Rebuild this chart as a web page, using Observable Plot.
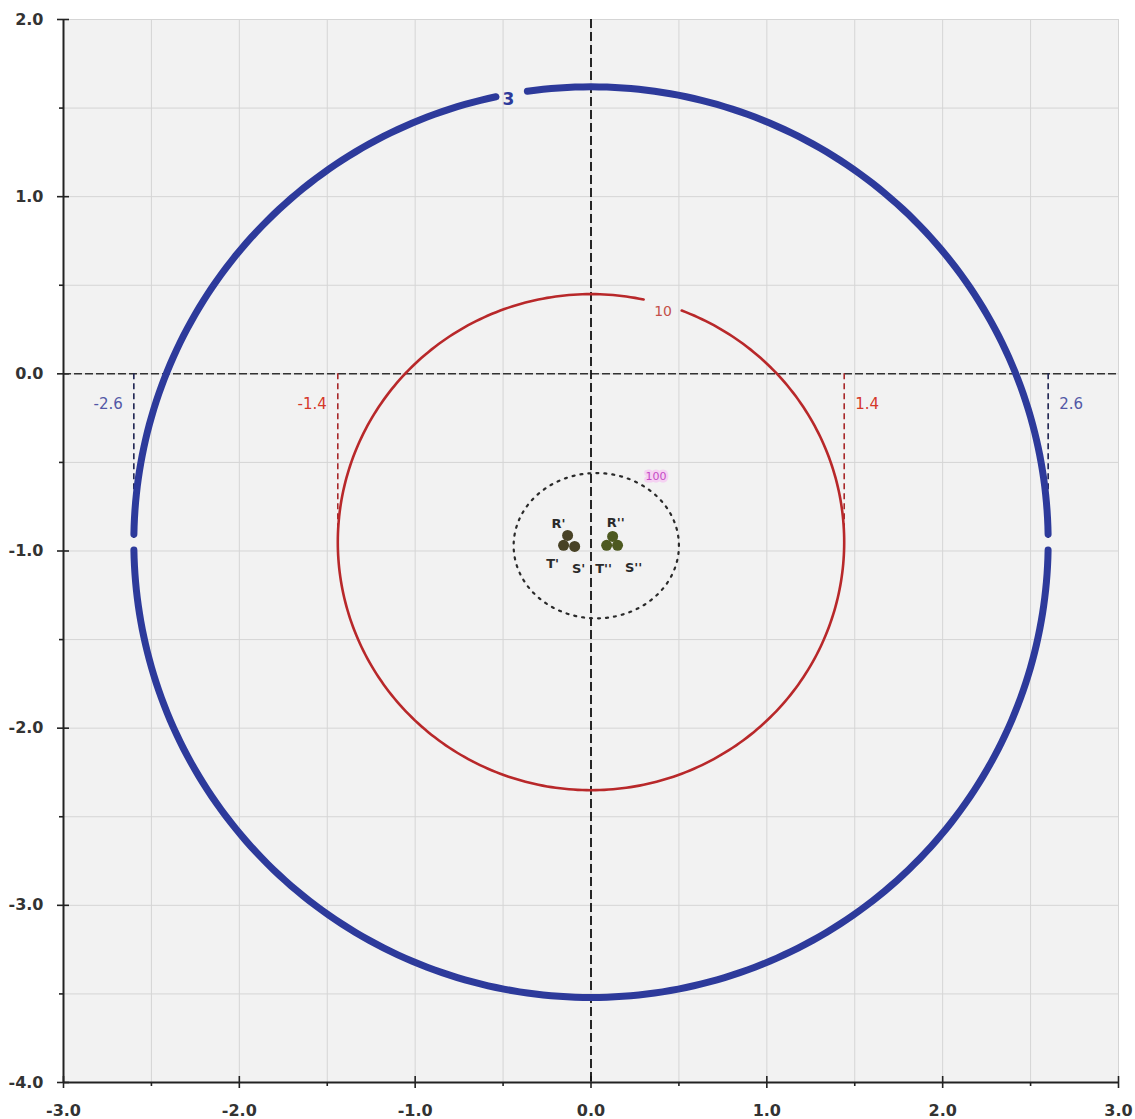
<!DOCTYPE html>
<html><head><meta charset="utf-8">
<script src="https://cdn.jsdelivr.net/npm/d3@7"></script>
<script src="https://cdn.jsdelivr.net/npm/@observablehq/plot@0.6"></script>
<style>html,body{margin:0;padding:0;background:#fff} svg{display:block}</style>
</head><body><div id="chart"></div>
<script>
// ---- data ----
const circleNames = ["3", "10", "100"];
const circleCx = [0, 0, 0.03];
const circleCy = [-0.95, -0.95, -0.97];
const circleRx = [2.6, 1.44, 0.47];
const circleRy = [2.57, 1.40, 0.41];
// arcs (degrees) actually drawn – gaps where labels / breaks sit
const circleArcs = [
  [[1, 98], [102, 179], [181, 359]],
  [[78, 429]],
  [[0, 360]]
];
const circleLabelX = [-0.47, 0.41, 0.37];
const circleLabelY = [1.55, 0.35, -0.58];

const markerX = [-2.6, -1.44, 1.44, 2.6];
const markerLabels = ["-2.6", "-1.4", "1.4", "2.6"];
const markerBottom = -0.93;

const pointNames = ["R'", "T'", "S'", "R''", "T''", "S''"];
const pointX = [-0.133, -0.156, -0.093, 0.123, 0.089, 0.151];
const pointY = [-0.912, -0.968, -0.974, -0.918, -0.968, -0.968];

const majorX = [-3, -2, -1, 0, 1, 2, 3];
const minorX = [-2.5, -1.5, -0.5, 0.5, 1.5, 2.5];
const majorY = [2, 1, 0, -1, -2, -3, -4];
const minorY = [1.5, 0.5, -0.5, -1.5, -2.5, -3.5];

// ---- styles ----
const circleStyle = [
  {stroke: "#2d3a9b", strokeWidth: 7},
  {stroke: "#b8282a", strokeWidth: 2.6},
  {stroke: "#2a2a2a", strokeWidth: 2.2, strokeDasharray: "2,6", strokeLinecap: "round"}
];
const circleLabelStyle = [
  {fill: "#2d3a9b", fontSize: 17, fontWeight: "bold"},
  {fill: "#c4504a", fontSize: 14},
  {fill: "#c64cc6", fontSize: 11, stroke: "#f5d2f2", strokeWidth: 5}
];
const markerColor = ["#1f2452", "#a8282a", "#a8282a", "#1f2452"];
const markerTextColor = ["#5358a6", "#d5382a", "#d5382a", "#5358a6"];
const pointColor = ["#484226", "#484226", "#484226", "#4d5920", "#4d5920", "#4d5920"];
const pointLabelOffset = {
  "R'": [-9, -12], "T'": [-11, 18], "S'": [4, 22],
  "R''": [3, -14], "T''": [-3, 23], "S''": [16, 22]
};

// ---- build ----
const arcRows = [];
circleNames.forEach((name, i) => {
  circleArcs[i].forEach(([a0, a1], j) => {
    for (let a = a0; a <= a1; a += 1) {
      const t = a * Math.PI / 180;
      arcRows.push({circle: i, arc: `${name}-${j}`,
        x: circleCx[i] + circleRx[i] * Math.cos(t),
        y: circleCy[i] + circleRy[i] * Math.sin(t)});
    }
  });
});
const points = pointNames.map((n, i) => ({name: n, x: pointX[i], y: pointY[i], color: pointColor[i]}));
const markers = markerX.map((x, i) => ({x, label: markerLabels[i], i}));

const marks = [
  Plot.frame({fill: "#f2f2f2"}),
  Plot.ruleX([...majorX, ...minorX], {stroke: "#d5d5d5", strokeWidth: 1}),
  Plot.ruleY([...majorY, ...minorY], {stroke: "#d5d5d5", strokeWidth: 1}),
  // axis labels
  Plot.axisX(majorX, {tickSize: 0, tickPadding: 22, label: null, tickFormat: d => d.toFixed(1), fill: "#333", fontSize: 16, fontWeight: "bold"}),
  Plot.axisY(majorY, {tickSize: 0, tickPadding: 20, label: null, tickFormat: d => d.toFixed(1), fill: "#333", fontSize: 16, fontWeight: "bold"}),
  // ticks
  Plot.axisX(majorX, {tickSize: 12, dy: -6, label: null, fill: "none", stroke: "#222", strokeWidth: 1.6}),
  Plot.axisY(majorY, {tickSize: 12, dx: 6, label: null, fill: "none", stroke: "#222", strokeWidth: 1.6}),
  Plot.axisX(minorX, {tickSize: 4, label: null, fill: "none", stroke: "#222", strokeWidth: 1.6}),
  Plot.axisY(minorY, {tickSize: 4, label: null, fill: "none", stroke: "#222", strokeWidth: 1.6}),
  // zero dashed lines
  Plot.ruleY([0], {stroke: "#333", strokeWidth: 1.5, strokeDasharray: "8,3"}),
  Plot.ruleX([0], {stroke: "#111", strokeWidth: 1.8, strokeDasharray: "9,4"}),
  // marker lines
  ...markers.map(m => Plot.ruleX([m], {x: "x", y1: 0, y2: markerBottom, stroke: markerColor[m.i], strokeWidth: 1.6, strokeDasharray: "6,4"})),
  ...markers.map(m => Plot.text([m], {x: "x", y: 0, text: "label", dy: 30,
      dx: m.x < 0 ? -11 : 11, textAnchor: m.x < 0 ? "end" : "start",
      fill: markerTextColor[m.i], fontSize: 15})),
  // circles
  ...circleNames.map((n, i) => Plot.line(arcRows.filter(d => d.circle === i), {x: "x", y: "y", z: "arc", ...circleStyle[i]})),
  ...circleNames.map((n, i) => Plot.text([n], {x: circleLabelX[i], y: circleLabelY[i], text: d => d, paintOrder: "stroke", ...circleLabelStyle[i]})),
  // points
  Plot.dot(points, {x: "x", y: "y", r: 5.5, fill: "color"}),
  ...points.map(p => Plot.text([p], {x: "x", y: "y", text: "name", dx: pointLabelOffset[p.name][0], dy: pointLabelOffset[p.name][1], fill: "#2a2a2a", fontSize: 13, fontWeight: "bold"})),
  // axis lines
  Plot.ruleX([-3], {stroke: "#222", strokeWidth: 2}),
  Plot.ruleY([-4], {stroke: "#222", strokeWidth: 2})
];

const chart = Plot.plot({
  width: 1135, height: 1119,
  marginLeft: 63, marginRight: 17, marginTop: 19, marginBottom: 37,
  x: {domain: [-3, 3], label: null},
  y: {domain: [-4, 2], label: null},
  color: {type: "identity"},
  style: {fontFamily: "DejaVu Sans", fontSize: "16px", color: "#333", background: "#fff"},
  marks
});
document.getElementById("chart").appendChild(chart);
</script>
</body></html>
